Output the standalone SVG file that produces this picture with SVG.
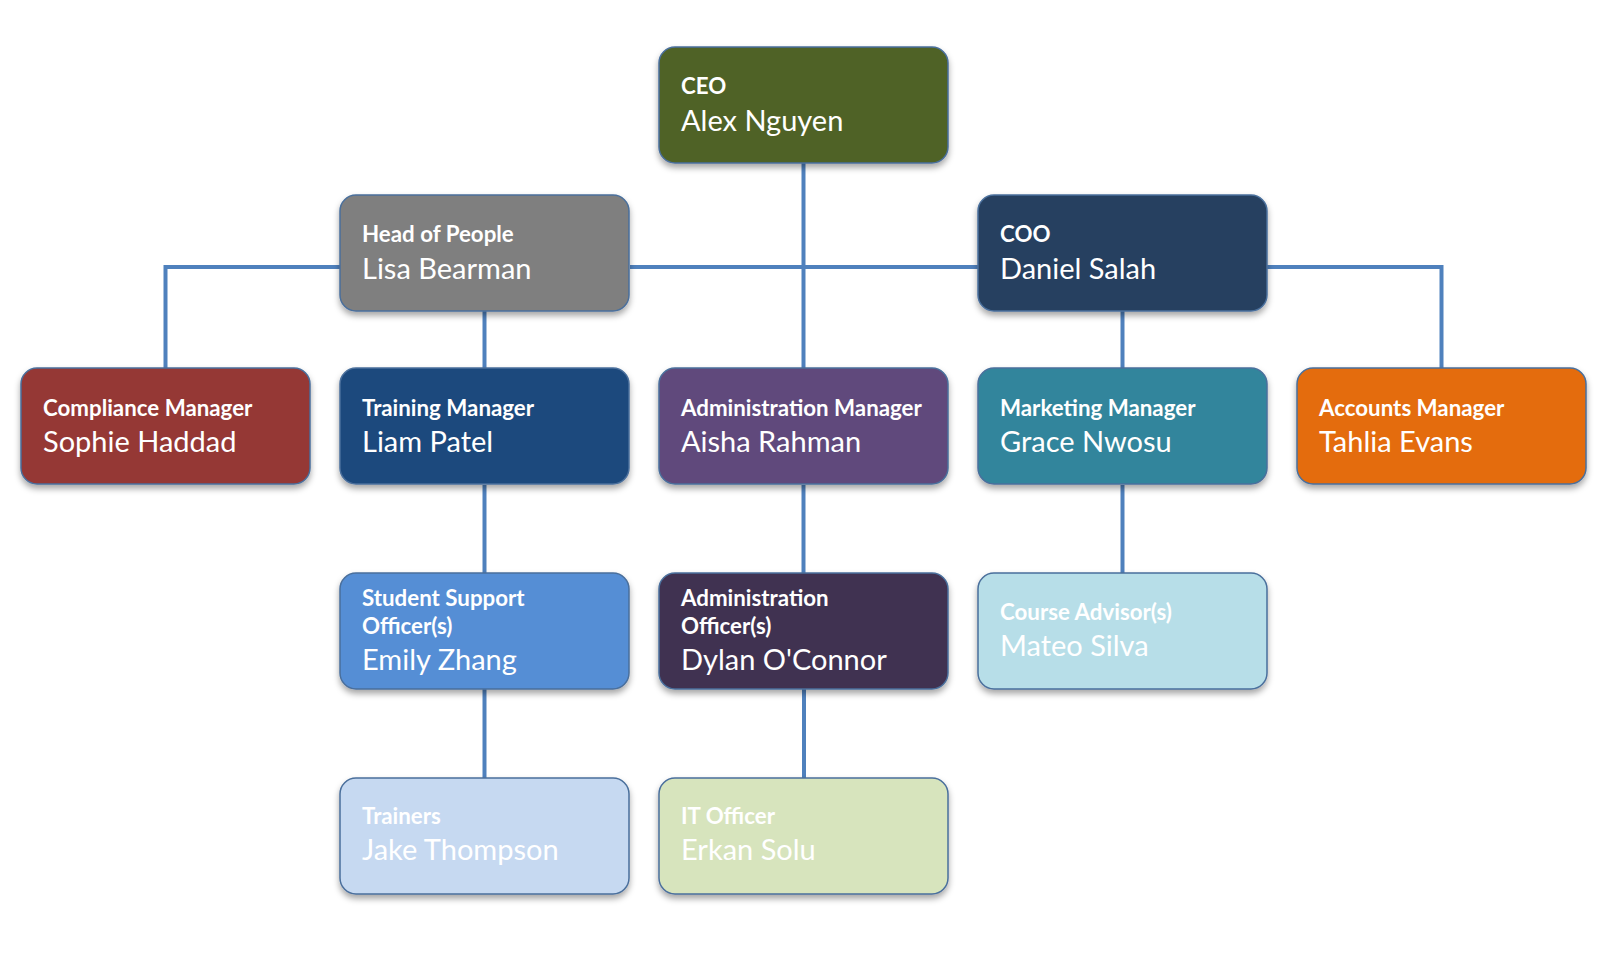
<svg xmlns="http://www.w3.org/2000/svg" width="1600" height="973" viewBox="0 0 1600 973">
<defs>
<filter id="sh" x="-10%" y="-10%" width="120%" height="135%">
<feDropShadow dx="0" dy="4" stdDeviation="3" flood-color="#000" flood-opacity="0.35"/>
</filter>
</defs>
<style>
.box{stroke:#4a6f9c;stroke-width:1.5;filter:url(#sh)}
.t{font-family:Lato,"Liberation Sans",sans-serif;font-weight:bold;font-size:22.3px;fill:#fff}
.n{font-family:Lato,"Liberation Sans",sans-serif;font-size:29px;fill:#fff}
.c{fill:none;stroke:#4f81bd;stroke-width:4}
</style>
<rect width="1600" height="973" fill="#fff"/>
<g id="connectors">
<path class="c" d="M803.5 163V368"/>
<path class="c" d="M630 267H978"/>
<path class="c" d="M340 267H165.5V368"/>
<path class="c" d="M1266 267H1441.5V368"/>
<path class="c" d="M484.5 311V368"/>
<path class="c" d="M1122.5 311V368"/>
<path class="c" d="M484.5 485V573"/>
<path class="c" d="M803.5 485V573"/>
<path class="c" d="M1122.5 485V573"/>
<path class="c" d="M484.5 689V778"/>
<path class="c" d="M804 689V778"/>
</g>
<g id="ceo"><rect class="box" x="659" y="47" width="289" height="116" rx="16" fill="#4f6228"/><text class="t" x="681" y="94">CEO</text><text class="n" x="681" y="131">Alex Nguyen</text></g>
<g id="head-of-people"><rect class="box" x="340" y="195" width="289" height="116" rx="16" fill="#7f7f7f"/><text class="t" x="362" y="242">Head of People</text><text class="n" x="362" y="279">Lisa Bearman</text></g>
<g id="coo"><rect class="box" x="978" y="195" width="289" height="116" rx="16" fill="#254061"/><text class="t" x="1000" y="242">COO</text><text class="n" x="1000" y="279">Daniel Salah</text></g>
<g id="compliance-manager"><rect class="box" x="21" y="368" width="289" height="116" rx="16" fill="#953735"/><text class="t" x="43" y="416">Compliance Manager</text><text class="n" x="43" y="452">Sophie Haddad</text></g>
<g id="training-manager"><rect class="box" x="340" y="368" width="289" height="116" rx="16" fill="#1f497d"/><text class="t" x="362" y="416">Training Manager</text><text class="n" x="362" y="452">Liam Patel</text></g>
<g id="administration-manager"><rect class="box" x="659" y="368" width="289" height="116" rx="16" fill="#604a7b"/><text class="t" x="681" y="416">Administration Manager</text><text class="n" x="681" y="452">Aisha Rahman</text></g>
<g id="marketing-manager"><rect class="box" x="978" y="368" width="289" height="116" rx="16" fill="#31859c"/><text class="t" x="1000" y="416">Marketing Manager</text><text class="n" x="1000" y="452">Grace Nwosu</text></g>
<g id="accounts-manager"><rect class="box" x="1297" y="368" width="289" height="116" rx="16" fill="#e46c0a"/><text class="t" x="1319" y="416">Accounts Manager</text><text class="n" x="1319" y="452">Tahlia Evans</text></g>
<g id="student-support"><rect class="box" x="340" y="573" width="289" height="116" rx="16" fill="#558ed5"/><text class="t" x="362" y="606">Student Support</text><text class="t" x="362" y="634">Officer(s)</text><text class="n" x="362" y="670">Emily Zhang</text></g>
<g id="administration-officer"><rect class="box" x="659" y="573" width="289" height="116" rx="16" fill="#3f3151"/><text class="t" x="681" y="606">Administration</text><text class="t" x="681" y="634">Officer(s)</text><text class="n" x="681" y="670">Dylan O'Connor</text></g>
<g id="course-advisor"><rect class="box" x="978" y="573" width="289" height="116" rx="16" fill="#b7dee8"/><text class="t" x="1000" y="620">Course Advisor(s)</text><text class="n" x="1000" y="656">Mateo Silva</text></g>
<g id="trainers"><rect class="box" x="340" y="778" width="289" height="116" rx="16" fill="#c6d9f1"/><text class="t" x="362" y="824">Trainers</text><text class="n" x="362" y="860">Jake Thompson</text></g>
<g id="it-officer"><rect class="box" x="659" y="778" width="289" height="116" rx="16" fill="#d7e4bd"/><text class="t" x="681" y="824">IT Officer</text><text class="n" x="681" y="860">Erkan Solu</text></g>
</svg>
